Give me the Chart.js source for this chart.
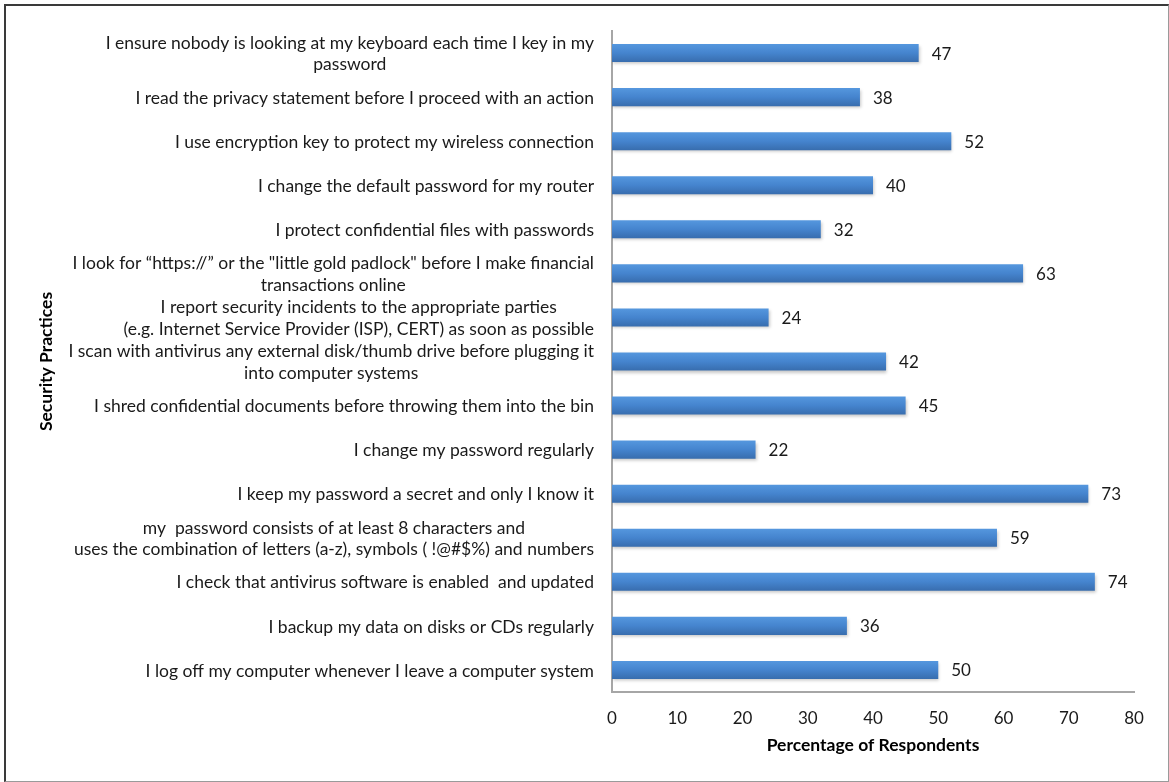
<!DOCTYPE html>
<html>
<head>
<meta charset="utf-8">
<script src="https://cdn.jsdelivr.net/npm/chart.js@4"></script>
<style>
  html, body { margin: 0; padding: 0; background: #fff; }
  #wrap { position: relative; width: 1169px; height: 782px; }
  #frame {
    position: absolute; left: 4px; top: 4px; width: 1162px; height: 775px;
    border-top: 2px solid #3a3a3a; border-left: 2px solid #3a3a3a;
    border-right: 1px solid #9a9a9a; border-bottom: 1px solid #9a9a9a;
    pointer-events: none;
  }
</style>
</head>
<body>
<div id="wrap">
  <canvas id="chart" width="1169" height="782"></canvas>
  <div id="frame"></div>
</div>
<script>
// data, top to bottom as in the picture
const practices = [
  ['I ensure nobody is looking at my keyboard each time I key in my', 'password'],
  ['I read the privacy statement before I proceed with an action '],
  ['I use encryption key to protect my wireless connection'],
  ['I change the default password for my router'],
  ['I protect confidential files with passwords'],
  ['I look for \u201chttps://\u201d or the "little gold padlock" before I make financial', 'transactions online'],
  ['I report security incidents to the appropriate parties', '(e.g. Internet Service Provider (ISP), CERT) as soon as possible'],
  ['I scan with antivirus any external disk/thumb drive before plugging it', 'into computer systems'],
  ['I shred confidential documents before throwing them into the bin'],
  ['I change my password regularly '],
  ['I keep my password a secret and only I know it'],
  ['my  password consists of at least 8 characters and', 'uses the combination of letters (a-z), symbols ( !@#$%) and numbers'],
  ['I check that antivirus software is enabled  and updated'],
  ['I backup my data on disks or CDs regularly'],
  ['I log off my computer whenever I leave a computer system']
];
const percentages = [47, 38, 52, 40, 32, 63, 24, 42, 45, 22, 73, 59, 74, 36, 50];
const xTicks = [0, 10, 20, 30, 40, 50, 60, 70, 80];

const FONT = 'Lato';
const labelRight = 594;

const barFill = (ctx) => {
  const chart = ctx.chart;
  const y = chart.scales.y;
  if (!y || ctx.dataIndex === undefined) return '#4580c6';
  const cy = y.getPixelForValue(ctx.dataIndex);
  if (!isFinite(cy)) return '#4580c6';
  const g = chart.ctx.createLinearGradient(0, cy - 9, 0, cy + 9);
  g.addColorStop(0, '#5597de');
  g.addColorStop(0.5, '#4584ce');
  g.addColorStop(1, '#386dae');
  return g;
};

const extras = {
  id: 'extras',
  beforeDatasetsDraw(chart) {
    const c = chart.ctx;
    c.save();
    c.shadowColor = 'rgba(0,0,0,0.22)';
    c.shadowBlur = 3;
    c.shadowOffsetX = 1;
    c.shadowOffsetY = 2;
  },
  afterDatasetsDraw(chart) {
    const c = chart.ctx;
    c.restore();
    const meta = chart.getDatasetMeta(0);
    c.save();
    c.font = '17px ' + FONT;
    c.fillStyle = '#1a1a1a';
    c.textAlign = 'left';
    c.textBaseline = 'middle';
    meta.data.forEach((bar, i) => {
      c.fillText(String(percentages[i]), bar.x + 13, bar.y + 1);
    });
    // category labels: block right aligned, lines centred
    const y = chart.scales.y;
    const lh = 21.5;
    c.font = '17.5px ' + FONT;
    practices.forEach((lines, i) => {
      const cy = y.getPixelForValue(i);
      const w = Math.max(...lines.map(l => c.measureText(l.trimEnd()).width));
      const cx = labelRight - w / 2;
      c.textAlign = 'center';
      lines.forEach((l, k) => {
        c.fillText(l.trimEnd(), cx, cy + 1 + (k - (lines.length - 1) / 2) * lh);
      });
    });
    c.restore();
  }
};

new Chart(document.getElementById('chart'), {
  type: 'bar',
  data: {
    labels: practices,
    datasets: [{
      data: percentages,
      backgroundColor: barFill,
      borderWidth: 0,
      barPercentage: 0.82,
      categoryPercentage: 0.5
    }]
  },
  options: {
    indexAxis: 'y',
    responsive: false,
    animation: false,
    events: [],
    layout: { padding: { left: 36, top: 31, right: 35, bottom: 0 } },
    plugins: { legend: { display: false }, tooltip: { enabled: false } },
    scales: {
      x: {
        min: 0,
        max: 80,
        afterBuildTicks: (s) => { s.ticks = xTicks.map(v => ({ value: v })); },
        afterFit: (s) => { s.height = 90; },
        grid: { display: false, drawTicks: false },
        border: { display: true, color: '#a6a6a6', width: 2 },
        ticks: { font: { family: FONT, size: 17 }, color: '#1a1a1a', padding: 16 },
        title: {
          display: true,
          text: 'Percentage of Respondents',
          font: { family: FONT, size: 17.5, weight: 'bold' },
          color: '#000',
          padding: { top: 0, bottom: 26 }
        }
      },
      y: {
        afterFit: (s) => { s.width = 576; },
        grid: { display: false, drawTicks: false },
        border: { display: true, color: '#a6a6a6', width: 2 },
        ticks: { display: false },
        title: {
          display: true,
          text: 'Security Practices',
          font: { family: FONT, size: 17.5, weight: 'bold' },
          color: '#000',
          padding: { top: 0, bottom: 0 }
        }
      }
    }
  },
  plugins: [extras]
});
</script>
</body>
</html>
